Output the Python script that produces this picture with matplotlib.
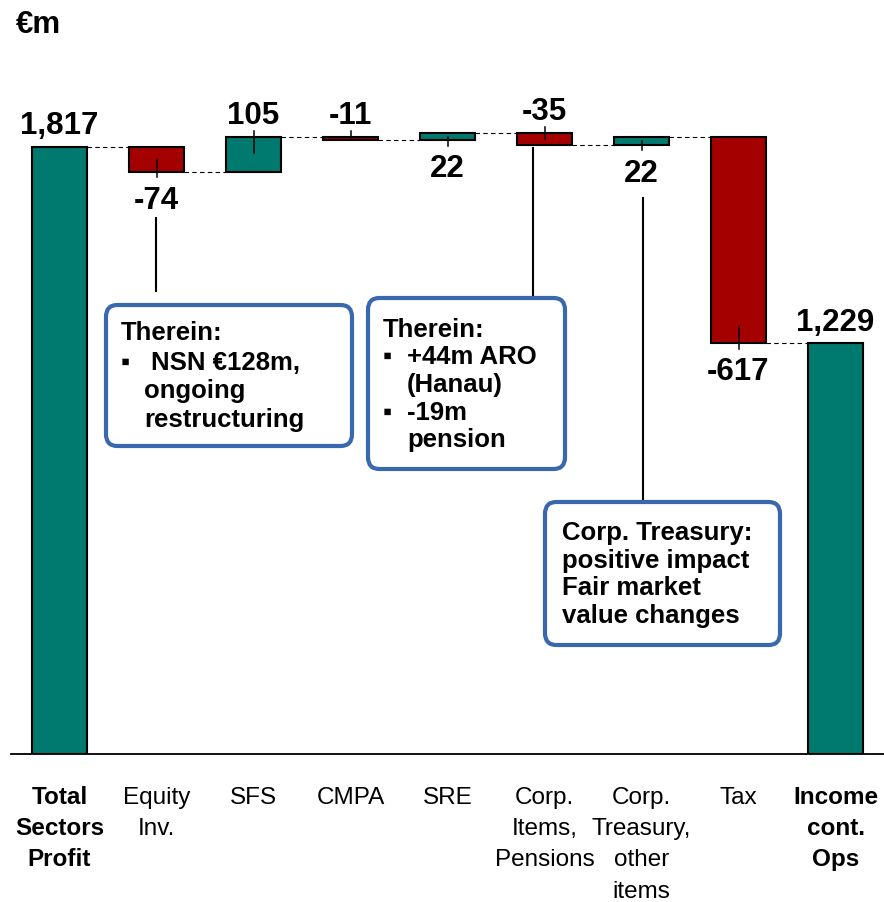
import matplotlib
matplotlib.use("Agg")
import matplotlib.pyplot as plt
import matplotlib.transforms as mtransforms
from matplotlib.patches import FancyBboxPatch
from matplotlib.lines import Line2D

# ---------------- data ----------------
categories = ["Total\nSectors\nProfit", "Equity\nInv.", "SFS", "CMPA", "SRE",
              "Corp.\nItems,\nPensions", "Corp.\nTreasury,\nother\nitems",
              "Tax", "Income\ncont.\nOps"]
values = [1817, -74, 105, -11, 22, -35, 22, -617, 1229]
is_total = [True, False, False, False, False, False, False, False, True]
value_labels = ["1,817", "-74", "105", "-11", "22", "-35", "22", "-617", "1,229"]
label_above = [True, False, True, True, False, True, False, False, True]
bold_category = [True, False, False, False, False, False, False, False, True]
unit_label = "€m"

box1_lines = ["Therein:", "▪", "NSN €128m,", "ongoing", "restructuring"]
box2_lines = ["Therein:", "▪", "+44m ARO", "(Hanau)", "▪", "-19m", "pension"]
box3_lines = ["Corp. Treasury:", "positive impact", "Fair market", "value changes"]

# ---------------- style ----------------
TEAL = "#00796E"
RED = "#A50000"
BOXBLUE = "#3A68AE"
FONT = ["Liberation Sans", "DejaVu Sans"]
plt.rcParams["font.family"] = FONT

W, H = 884, 902
fig = plt.figure(figsize=(W / 100, H / 100), dpi=100)

BASE_PX = 753.5
TOP_PX = 60
PX_PER_UNIT = 0.3338
ax = fig.add_axes([11 / W, (H - BASE_PX) / H, (W - 11) / W, (BASE_PX - TOP_PX) / H])
ax.set_xlim(-0.5, len(values) - 0.5)
ax.set_ylim(0, (BASE_PX - TOP_PX) / PX_PER_UNIT)
for s in ["top", "right", "left"]:
    ax.spines[s].set_visible(False)
ax.spines["bottom"].set_linewidth(1.3)
ax.set_xticks([])
ax.set_yticks([])

def px2d(p):
    return p / PX_PER_UNIT

def pt(p):
    return p * 72 / 100

BW = 0.57
cum = 0
bottoms, tops = [], []
for i, v in enumerate(values):
    if is_total[i]:
        b, t = 0, v
        cum = v
    else:
        b, t = min(cum, cum + v), max(cum, cum + v)
        cum = cum + v
    bottoms.append(b)
    tops.append(t)
    color = TEAL if v >= 0 else RED
    ax.bar(i, t - b, bottom=b, width=BW, color=color, edgecolor="black",
           linewidth=1.5, zorder=3)

# connectors
levels = []
cum = 0
for i, v in enumerate(values):
    cum = v if is_total[i] else cum + v
    levels.append(cum)
for i in range(len(values) - 1):
    ax.plot([i + BW / 2, i + 1 - BW / 2], [levels[i], levels[i]],
            color="black", lw=0.8, ls=(0, (4, 3)), zorder=2)

# value labels and small ticks
for i, v in enumerate(values):
    if label_above[i]:
        ax.annotate(value_labels[i], (i, tops[i]), xytext=(0, pt(12.5)),
                    textcoords="offset points", ha="center", va="baseline",
                    fontsize=22.5, fontweight="bold", zorder=5)
    else:
        ax.annotate(value_labels[i], (i, bottoms[i]), xytext=(0, -pt(37)),
                    textcoords="offset points", ha="center", va="baseline",
                    fontsize=22.5, fontweight="bold", zorder=5)
    if not is_total[i]:
        h_px = (tops[i] - bottoms[i]) * PX_PER_UNIT
        inside = min(16, h_px / 2)
        if label_above[i]:
            y0, y1 = tops[i] - px2d(inside), tops[i] + px2d(5.5)
        else:
            y0, y1 = bottoms[i] + px2d(inside), bottoms[i] - px2d(5.5)
        ax.plot([i, i], [y0, y1], color="black", lw=1.1, zorder=4)

# category labels
blend = mtransforms.blended_transform_factory(ax.transData, fig.transFigure)
for i, c in enumerate(categories):
    for j, line in enumerate(c.split("\n")):
        ax.text(i, 1 - (804 + 31.2 * j) / H, line, transform=blend,
                ha="center", va="baseline", fontsize=17.5,
                fontweight="bold" if bold_category[i] else "normal",
                clip_on=False)

# unit label
fig.text(16 / W, 1 - 33 / H, unit_label, fontsize=22.5, fontweight="bold",
         ha="left", va="baseline")

def vline(x, y0, y1):
    fig.add_artist(Line2D([x / W, x / W], [1 - y0 / H, 1 - y1 / H],
                          transform=fig.transFigure, color="black", lw=1.5))

def rbox(x0, y0, x1, y1):
    p = FancyBboxPatch((x0 / W, 1 - y1 / H), (x1 - x0) / W, (y1 - y0) / H,
                       boxstyle="round,pad=0,rounding_size=0.013",
                       transform=fig.transFigure, facecolor="white",
                       edgecolor=BOXBLUE, linewidth=3.0, zorder=6)
    fig.add_artist(p)

def btext(x, y, s):
    fig.text(x / W, 1 - y / H, s, fontsize=18.5, fontweight="bold",
             ha="left", va="baseline", zorder=7)

# leader lines
vline(156, 218, 291)
vline(533, 148, 298)
vline(643, 198, 502)

# box 1
rbox(106, 305, 352, 446)
btext(121, 340, box1_lines[0])
btext(121, 370, box1_lines[1])
btext(151, 370, box1_lines[2])
btext(144, 398, box1_lines[3])
btext(144, 427, box1_lines[4])

# box 2
rbox(368, 298, 565, 469)
btext(383, 337, box2_lines[0])
btext(383, 364, box2_lines[1])
btext(407, 364, box2_lines[2])
btext(407, 392, box2_lines[3])
btext(383, 420, box2_lines[4])
btext(407, 420, box2_lines[5])
btext(407, 447, box2_lines[6])

# box 3
rbox(545, 502, 780, 645)
for k, line in enumerate(box3_lines):
    btext(562, 540 + 27.7 * k, line)

fig.savefig("out.png", dpi=100)
